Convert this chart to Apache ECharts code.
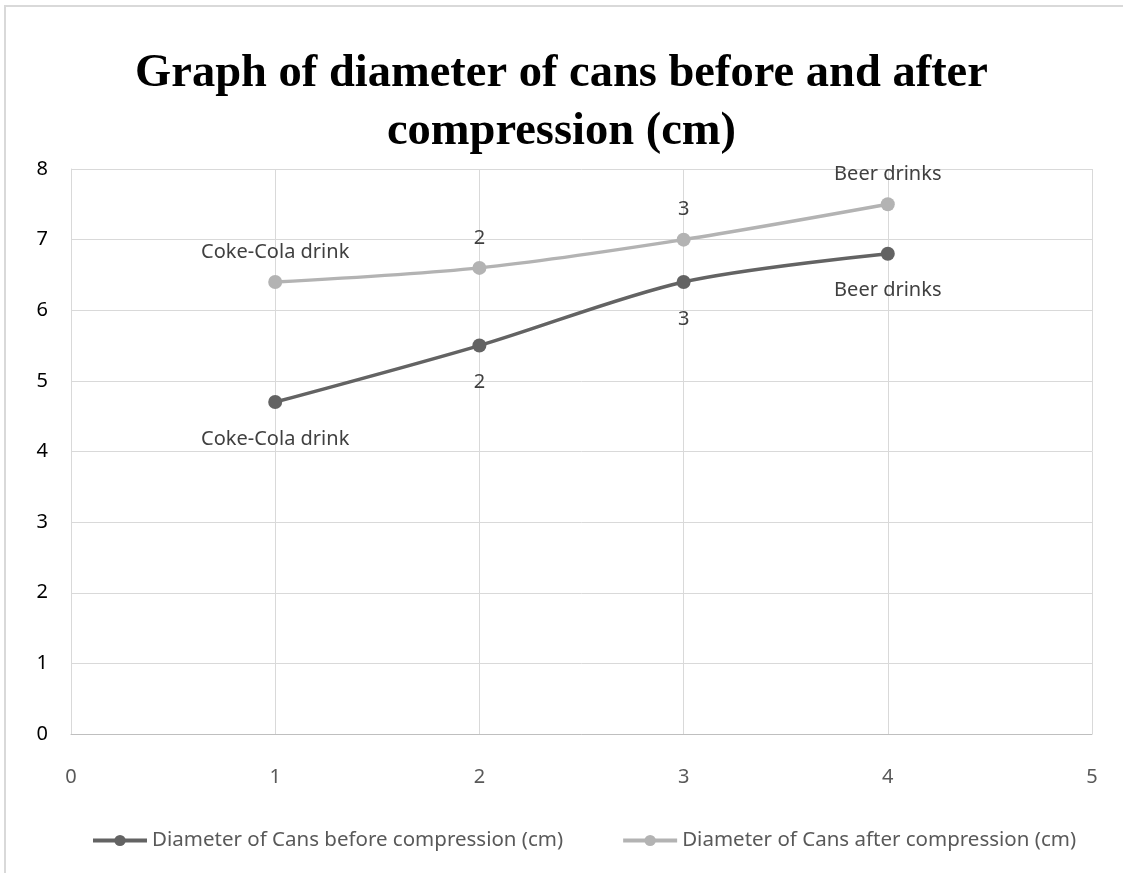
<!DOCTYPE html>
<html>
<head>
<meta charset="utf-8">
<script src="https://cdn.jsdelivr.net/npm/echarts@6/dist/echarts.min.js"></script>
<style>
  html, body { margin: 0; padding: 0; background: #fff; }
  #chart { width: 1123px; height: 873px; }
</style>
</head>
<body>
<div id="chart"></div>
<script>
// point names shown as data labels (Excel category names)
const pointNames = ["Coke-Cola drink", "2", "3", "Beer drinks"];
const xValues = [1, 2, 3, 4];
const beforeValues = [4.7, 5.5, 6.4, 6.8];
const afterValues = [6.4, 6.6, 7.0, 7.5];
const seriesNames = [
  "Diameter of Cans before compression (cm)",
  "Diameter of Cans after compression (cm)",
];

const labelFont = "'Noto Sans', sans-serif";

function toPoints(values) {
  return values.map((v, i) => [xValues[i], v]);
}

const chart = echarts.init(document.getElementById("chart"));

const option = {
  animation: false,
  backgroundColor: "#fff",
  title: {
    text: "Graph of diameter of cans before and after\ncompression (cm)",
    left: "center",
    top: 40,
    textStyle: {
      fontFamily: "'Liberation Serif', serif",
      fontWeight: "bold",
      fontSize: 46.5,
      lineHeight: 58,
      color: "#000",
    },
  },
  graphic: [
    {
      type: "polyline",
      shape: { points: [[5, 873], [5, 6], [1123, 6]] },
      style: { stroke: "#d9d9d9", lineWidth: 2, fill: null },
    },
  ],
  grid: {
    left: 71,
    right: 31,
    top: 169,
    bottom: 139,
    containLabel: false,
  },
  legend: {
    top: 825,
    left: 86,
    itemWidth: 54,
    itemHeight: 14,
    itemGap: 58,
    lineStyle: { width: 4 },
    textStyle: {
      fontFamily: labelFont,
      fontSize: 20.5,
      color: "#595959",
    },
    data: seriesNames,
  },
  xAxis: {
    type: "value",
    min: 0,
    max: 5,
    interval: 1,
    axisLine: { show: true, lineStyle: { color: "#bfbfbf", width: 1 } },
    axisTick: { show: false },
    axisLabel: {
      margin: 33,
      fontFamily: labelFont,
      fontSize: 20,
      color: "#595959",
    },
    splitLine: { show: true, lineStyle: { color: "#d9d9d9", width: 1 } },
  },
  yAxis: {
    type: "value",
    min: 0,
    max: 8,
    interval: 1,
    axisLine: { show: true, lineStyle: { color: "#d9d9d9", width: 1 } },
    axisTick: { show: false },
    axisLabel: {
      margin: 23,
      fontFamily: labelFont,
      fontSize: 20,
      color: "#000",
    },
    splitLine: { show: true, lineStyle: { color: "#d9d9d9", width: 1 } },
  },
  series: [
    {
      name: seriesNames[0],
      type: "line",
      smooth: 0.3,
      data: toPoints(beforeValues),
      symbol: "circle",
      symbolSize: 14,
      lineStyle: { color: "#636363", width: 3.5 },
      itemStyle: { color: "#636363" },
      label: {
        show: true,
        position: "bottom",
        distance: 20,
        fontFamily: labelFont,
        fontSize: 20,
        color: "#404040",
        formatter: (p) => pointNames[p.dataIndex],
      },
    },
    {
      name: seriesNames[1],
      type: "line",
      smooth: 0.3,
      data: toPoints(afterValues),
      symbol: "circle",
      symbolSize: 14,
      lineStyle: { color: "#b3b3b3", width: 3.5 },
      itemStyle: { color: "#b3b3b3" },
      label: {
        show: true,
        position: "top",
        distance: 13,
        fontFamily: labelFont,
        fontSize: 20,
        color: "#404040",
        formatter: (p) => pointNames[p.dataIndex],
      },
    },
  ],
};

chart.setOption(option);
</script>
</body>
</html>
